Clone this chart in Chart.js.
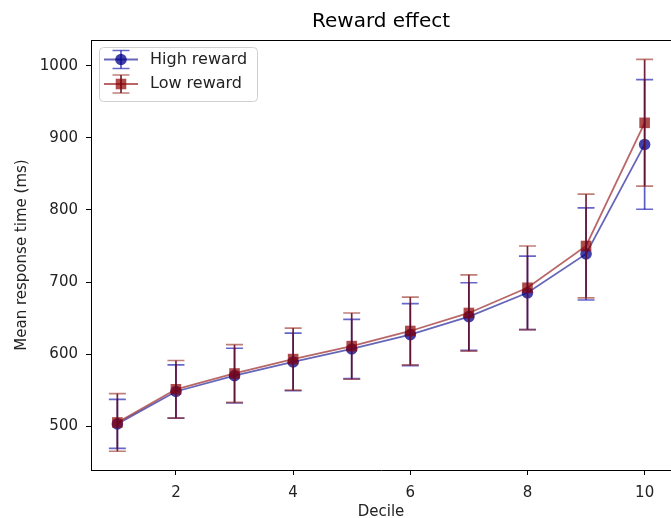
<!DOCTYPE html>
<html>
<head>
<meta charset="utf-8">
<script src="https://cdn.jsdelivr.net/npm/chart.js@4.4.1/dist/chart.umd.min.js"></script>
<style>
  html, body { margin: 0; padding: 0; background: #fff; }
  canvas { display: block; }
</style>
</head>
<body>
<canvas id="grafico" width="671" height="518"></canvas>
<script>
const deciles = [1, 2, 3, 4, 5, 6, 7, 8, 9, 10];
const highMean = [503, 548, 570, 589, 607, 627, 652, 685, 739, 891];
const highErr = [34, 37, 38, 40, 41, 43, 47, 51, 64, 90];
const lowMean = [505, 551, 573, 593, 611, 632, 657, 692, 750, 921];
const lowErr = [40, 40, 40, 43, 46, 47, 53, 58, 72, 88];
const xTicks = [2, 4, 6, 8, 10];
const yTicks = [500, 600, 700, 800, 900, 1000];

const fonte = "'DejaVu Sans', sans-serif";

function pontos(medias, erros) {
  return deciles.map((d, i) => ({ x: d, y: medias[i], err: erros[i] }));
}

// barras de erro desenhadas com as escalas do grafico
const barrasDeErro = {
  id: "barrasDeErro",
  afterDatasetDraw(chart, args) {
    const ds = chart.data.datasets[args.index];
    const ctx = chart.ctx;
    const xs = chart.scales.x;
    const ys = chart.scales.y;
    ctx.save();
    ds.data.forEach((p) => {
      const px = xs.getPixelForValue(p.x);
      const top = ys.getPixelForValue(p.y + p.err);
      const bot = ys.getPixelForValue(p.y - p.err);
      ctx.lineWidth = 1.7;
      ctx.strokeStyle = ds.barColor;
      ctx.beginPath();
      ctx.moveTo(px, top);
      ctx.lineTo(px, bot);
      ctx.stroke();
      ctx.strokeStyle = ds.capColor;
      ctx.beginPath();
      ctx.moveTo(px - 8.5, top);
      ctx.lineTo(px + 8.5, top);
      ctx.moveTo(px - 8.5, bot);
      ctx.lineTo(px + 8.5, bot);
      ctx.stroke();
    });
    ctx.restore();
  },
};

// moldura de cima e legenda no estilo matplotlib
const legendaMpl = {
  id: "legendaMpl",
  afterDraw(chart) {
    const ctx = chart.ctx;
    const area = chart.chartArea;
    ctx.save();
    ctx.strokeStyle = "#000";
    ctx.lineWidth = 1;
    ctx.beginPath();
    ctx.moveTo(area.left, area.top + 0.5);
    ctx.lineTo(area.right, area.top + 0.5);
    ctx.stroke();

    const bx = 99, by = 47, bw = 158, bh = 54;
    ctx.beginPath();
    ctx.roundRect(bx + 0.5, by + 0.5, bw, bh, 4);
    ctx.fillStyle = "rgba(255,255,255,0.8)";
    ctx.fill();
    ctx.strokeStyle = "#d0d0d0";
    ctx.stroke();

    chart.data.datasets.forEach((ds, i) => {
      const cy = 59.5 + i * 24.5;
      const cx = 121;
      ctx.strokeStyle = ds.borderColor;
      ctx.lineWidth = 1.8;
      ctx.beginPath();
      ctx.moveTo(104, cy);
      ctx.lineTo(138, cy);
      ctx.stroke();
      ctx.lineWidth = 1.7;
      ctx.strokeStyle = ds.barColor;
      ctx.beginPath();
      ctx.moveTo(cx, cy - 9);
      ctx.lineTo(cx, cy + 9);
      ctx.stroke();
      ctx.strokeStyle = ds.capColor;
      ctx.beginPath();
      ctx.moveTo(cx - 8.5, cy - 9);
      ctx.lineTo(cx + 8.5, cy - 9);
      ctx.moveTo(cx - 8.5, cy + 9);
      ctx.lineTo(cx + 8.5, cy + 9);
      ctx.stroke();
      ctx.fillStyle = ds.pointBackgroundColor;
      ctx.beginPath();
      if (ds.pointStyle === "rect") {
        ctx.rect(cx - 5.3, cy - 5.3, 10.6, 10.6);
      } else {
        ctx.arc(cx, cy, 5.8, 0, Math.PI * 2);
      }
      ctx.fill();
      ctx.fillStyle = "#222";
      ctx.font = "16px " + fonte;
      ctx.textBaseline = "middle";
      ctx.textAlign = "left";
      ctx.fillText(ds.label, 150, cy);
    });
    ctx.restore();
  },
};

const ctx = document.getElementById("grafico");
const myChart = new Chart(ctx, {
  type: "line",
  data: {
    datasets: [
      {
        label: "High reward",
        data: pontos(highMean, highErr),
        order: 2,
        borderColor: "rgba(0, 0, 139, 0.6)",
        backgroundColor: "rgba(0, 0, 139, 0.75)",
        pointBackgroundColor: "rgba(0, 0, 139, 0.75)",
        pointBorderColor: "rgba(0, 0, 139, 0)",
        pointStyle: "circle",
        pointRadius: 5.8,
        borderWidth: 1.8,
        barColor: "rgba(40, 40, 170, 0.75)",
        capColor: "rgba(0, 0, 170, 0.6)",
      },
      {
        label: "Low reward",
        data: pontos(lowMean, lowErr),
        order: 1,
        borderColor: "rgba(139, 0, 0, 0.6)",
        backgroundColor: "rgba(139, 0, 0, 0.7)",
        pointBackgroundColor: "rgba(139, 0, 0, 0.7)",
        pointBorderColor: "rgba(139, 0, 0, 0)",
        pointStyle: "rect",
        pointRadius: 7.5,
        borderWidth: 1.8,
        barColor: "rgba(100, 10, 40, 0.9)",
        capColor: "rgba(150, 40, 30, 0.6)",
      },
    ],
  },
  options: {
    responsive: false,
    animation: false,
    devicePixelRatio: 1,
    layout: { padding: 0, autoPadding: false },
    plugins: {
      legend: { display: false },
      tooltip: { enabled: false },
      title: {
        display: true,
        fullSize: false,
        text: "Reward effect",
        color: "#000",
        font: { family: fonte, size: 20, weight: "normal" },
        padding: { top: 10, bottom: 6 },
      },
    },
    scales: {
      x: {
        type: "linear",
        min: 0.55,
        max: 10.45,
        afterBuildTicks(scale) {
          scale.ticks = xTicks.map((v) => ({ value: v }));
        },
        afterFit(scale) {
          scale.height = 48;
          scale.paddingLeft = 0;
          scale.paddingRight = 0;
        },
        grid: { drawOnChartArea: false, drawTicks: true, tickLength: 5, color: "#000" },
        border: { display: true, color: "#000", width: 1 },
        ticks: {
          color: "#222",
          font: { family: fonte, size: 15 },
          padding: 9,
          maxRotation: 0,
          callback: (v) => String(v),
        },
        title: {
          display: true,
          text: "Decile",
          color: "#222",
          font: { family: fonte, size: 15 },
          padding: { top: 0, bottom: -3 },
        },
      },
      y: {
        type: "linear",
        min: 439,
        max: 1036,
        afterBuildTicks(scale) {
          scale.ticks = yTicks.map((v) => ({ value: v }));
        },
        afterFit(scale) {
          scale.width = 91;
          scale.paddingTop = 0;
          scale.paddingBottom = 0;
        },
        grid: { drawOnChartArea: false, drawTicks: true, tickLength: 5, color: "#000" },
        border: { display: true, color: "#000", width: 1 },
        ticks: {
          color: "#222",
          font: { family: fonte, size: 15 },
          padding: 8,
          callback: (v) => String(v),
        },
        title: {
          display: true,
          text: "Mean response time (ms)",
          color: "#222",
          font: { family: fonte, size: 15 },
          padding: { top: 13, bottom: 0 },
        },
      },
    },
  },
  plugins: [barrasDeErro, legendaMpl],
});
</script>
</body>
</html>
